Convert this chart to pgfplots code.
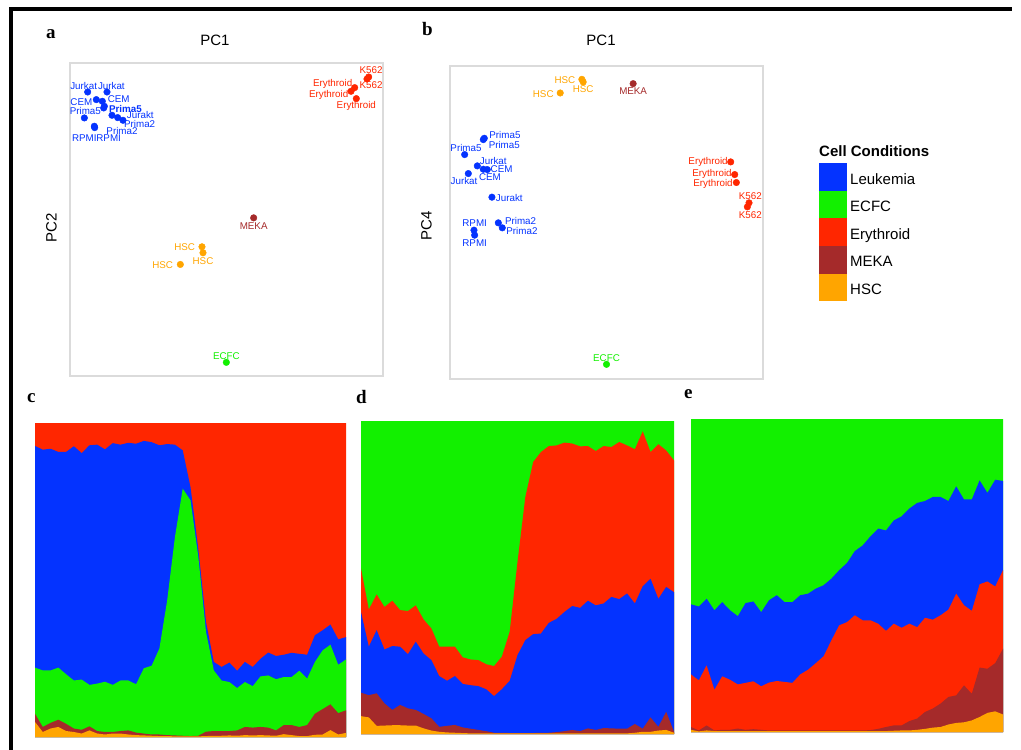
\documentclass[border=0pt]{standalone}
\usepackage{pgfplots}
\pgfplotsset{compat=1.18}
\usepackage{pgfplotstable}
\usepackage{fontspec}
\setmainfont{Liberation Sans}
\newfontfamily\panelfont{Liberation Serif}

\definecolor{leuk}{HTML}{0433FF}
\definecolor{ecfc}{HTML}{12F000}
\definecolor{ery}{HTML}{FF2600}
\definecolor{meka}{HTML}{A52A2A}
\definecolor{hsc}{HTML}{FFA500}

% cumulative proportions (top edge of each layer) along the ordering
\pgfplotstableread{
k hsc meka ecfc leuk ery
0 0.048 0.074 0.221 0.927 1
1 0.016 0.032 0.212 0.915 1
2 0.027 0.045 0.212 0.918 1
3 0.032 0.055 0.221 0.908 1
4 0.019 0.042 0.200 0.908 1
5 0.016 0.027 0.180 0.926 1
6 0.011 0.023 0.183 0.904 1
7 0.021 0.034 0.166 0.929 1
8 0.011 0.019 0.170 0.931 1
9 0.008 0.016 0.176 0.916 1
10 0.011 0.016 0.166 0.936 1
11 0.011 0.019 0.180 0.931 1
12 0.008 0.021 0.180 0.937 1
13 0.006 0.014 0.168 0.934 1
14 0.005 0.011 0.219 0.943 1
15 0.004 0.008 0.227 0.939 1
16 0.003 0.008 0.282 0.929 1
17 0.003 0.006 0.435 0.933 1
18 0.002 0.005 0.637 0.931 1
19 0.002 0.004 0.791 0.913 1
20 0.002 0.003 0.754 0.796 1
21 0.002 0.004 0.575 0.600 1
22 0.003 0.017 0.334 0.366 1
23 0.004 0.019 0.212 0.239 1
24 0.004 0.019 0.180 0.223 1
25 0.005 0.019 0.175 0.237 1
26 0.004 0.021 0.156 0.211 1
27 0.006 0.032 0.175 0.239 1
28 0.005 0.030 0.162 0.223 1
29 0.006 0.032 0.193 0.249 1
30 0.005 0.030 0.196 0.269 1
31 0.004 0.021 0.184 0.258 1
32 0.009 0.038 0.191 0.262 1
33 0.006 0.038 0.191 0.268 1
34 0.003 0.032 0.211 0.265 1
35 0.003 0.038 0.186 0.262 1
36 0.007 0.074 0.239 0.324 1
37 0.008 0.089 0.276 0.340 1
38 0.022 0.104 0.294 0.358 1
39 0.008 0.076 0.230 0.311 1
40 0.013 0.085 0.247 0.318 1
}\tabC

\pgfplotstableread{
k hsc meka leuk ery ecfc
0 0.057 0.132 0.390 0.529 1
1 0.053 0.124 0.279 0.398 1
2 0.026 0.130 0.332 0.446 1
3 0.027 0.098 0.270 0.406 1
4 0.028 0.077 0.281 0.426 1
5 0.028 0.093 0.279 0.396 1
6 0.027 0.082 0.255 0.393 1
7 0.027 0.077 0.295 0.411 1
8 0.018 0.064 0.257 0.366 1
9 0.011 0.050 0.236 0.337 1
10 0.007 0.023 0.185 0.279 1
11 0.005 0.026 0.170 0.279 1
12 0.004 0.029 0.185 0.279 1
13 0.003 0.021 0.160 0.245 1
14 0.002 0.017 0.156 0.238 1
15 0.002 0.013 0.153 0.236 1
16 0.002 0.009 0.143 0.223 1
17 0.002 0.004 0.121 0.217 1
18 0.002 0.004 0.143 0.247 1
19 0.002 0.003 0.170 0.327 1
20 0.002 0.003 0.252 0.550 1
21 0.002 0.003 0.300 0.757 1
22 0.002 0.003 0.319 0.869 1
23 0.002 0.004 0.321 0.901 1
24 0.002 0.004 0.355 0.920 1
25 0.002 0.006 0.368 0.922 1
26 0.002 0.009 0.390 0.931 1
27 0.002 0.013 0.409 0.928 1
28 0.002 0.009 0.403 0.919 1
29 0.002 0.018 0.426 0.920 1
30 0.002 0.013 0.411 0.904 1
31 0.002 0.019 0.417 0.920 1
32 0.002 0.018 0.438 0.917 1
33 0.002 0.017 0.431 0.933 1
34 0.002 0.017 0.449 0.922 1
35 0.004 0.032 0.417 0.910 1
36 0.007 0.017 0.472 0.967 1
37 0.007 0.053 0.496 0.901 1
38 0.011 0.023 0.432 0.926 1
39 0.013 0.071 0.470 0.906 1
40 0.004 0.007 0.453 0.874 1
}\tabD

\pgfplotstableread{
k hsc meka ery leuk ecfc
0 0.007 0.016 0.184 0.408 1
1 0.002 0.005 0.165 0.401 1
2 0.005 0.021 0.213 0.426 1
3 0.003 0.005 0.135 0.389 1
4 0.003 0.007 0.178 0.415 1
5 0.003 0.007 0.167 0.389 1
6 0.003 0.011 0.152 0.370 1
7 0.003 0.007 0.157 0.412 1
8 0.003 0.009 0.162 0.417 1
9 0.003 0.007 0.146 0.383 1
10 0.003 0.005 0.158 0.421 1
11 0.003 0.005 0.163 0.437 1
12 0.003 0.005 0.160 0.415 1
13 0.003 0.005 0.157 0.415 1
14 0.003 0.005 0.184 0.437 1
15 0.003 0.005 0.199 0.442 1
16 0.003 0.005 0.220 0.458 1
17 0.003 0.005 0.242 0.469 1
18 0.003 0.005 0.293 0.490 1
19 0.003 0.005 0.341 0.517 1
20 0.003 0.005 0.351 0.540 1
21 0.003 0.005 0.373 0.578 1
22 0.003 0.005 0.357 0.596 1
23 0.003 0.006 0.357 0.625 1
24 0.003 0.010 0.346 0.650 1
25 0.003 0.016 0.323 0.644 1
26 0.004 0.021 0.346 0.676 1
27 0.005 0.021 0.333 0.689 1
28 0.005 0.035 0.346 0.714 1
29 0.007 0.043 0.335 0.732 1
30 0.010 0.064 0.365 0.738 1
31 0.014 0.075 0.359 0.751 1
32 0.016 0.091 0.373 0.751 1
33 0.024 0.112 0.391 0.738 1
34 0.029 0.117 0.442 0.785 1
35 0.031 0.149 0.405 0.743 1
36 0.037 0.122 0.387 0.743 1
37 0.048 0.206 0.472 0.804 1
38 0.061 0.202 0.481 0.764 1
39 0.066 0.220 0.465 0.806 1
40 0.056 0.266 0.517 0.802 1
}\tabE

\pgfplotsset{
  pcabox/.style={scale only axis, width=313bp, height=313bp,
    xmin=0, xmax=100, ymin=0, ymax=100, xtick=\empty, ytick=\empty,
    axis line style={draw=black!14, line width=1.2bp}, clip=false},
  strip/.style={scale only axis, xmin=0, xmax=40, ymin=0, ymax=1, hide axis},
  layer/.style={draw=none, fill=#1, forget plot},
  dots/.style={only marks, mark=*, mark size=3.3bp, color=#1, forget plot},
}
\newcommand{\lab}[4]{\node[text=#1, inner sep=0pt,
  font=\fontsize{9.8bp}{10bp}\selectfont] at (axis cs:#2,#3) {#4};}
\newcommand{\panel}[1]{{\panelfont\bfseries\fontsize{19bp}{20bp}\selectfont #1}}

\begin{document}
\begin{tikzpicture}
\path[use as bounding box] (0,0) rectangle (1021bp,-750bp);

% outer frame
\draw[line width=3.5bp] (11bp,-752bp) -- (11bp,-9bp) -- (1012bp,-9bp);

% panel letters and axis names
\node[anchor=base west, inner sep=0pt] at (46bp,-38bp) {\panel{a}};
\node[anchor=base west, inner sep=0pt] at (422bp,-35bp) {\panel{b}};
\node[anchor=base west, inner sep=0pt] at (27bp,-402bp) {\panel{c}};
\node[anchor=base west, inner sep=0pt] at (356bp,-403bp) {\panel{d}};
\node[anchor=base west, inner sep=0pt] at (684bp,-398bp) {\panel{e}};
\node[anchor=base, inner sep=0pt, font=\fontsize{15bp}{16bp}\selectfont] at (215bp,-45bp) {PC1};
\node[anchor=base, inner sep=0pt, font=\fontsize{15bp}{16bp}\selectfont] at (601bp,-45bp) {PC1};
\node[rotate=90, inner sep=0pt, font=\fontsize{15bp}{16bp}\selectfont] at (51.5bp,-227.5bp) {PC2};
\node[rotate=90, inner sep=0pt, font=\fontsize{15bp}{16bp}\selectfont] at (426.5bp,-226bp) {PC4};
\node[anchor=base west, inner sep=0pt, font=\bfseries\fontsize{15bp}{16bp}\selectfont] at (819bp,-156bp) {Cell Conditions};

% ---- a: PC1 vs PC2
\begin{axis}[pcabox, at={(70bp,-63bp)}, anchor=north west]
\addplot[dots=leuk] coordinates {(5.64,90.74) (11.82,90.74) (8.41,88.30) (10.33,87.77)
  (10.76,85.64) (10.97,86.17) (4.58,82.45) (13.42,83.30) (15.23,82.55) (16.93,81.70)
  (7.88,79.36) (7.77,79.79)};
\addplot[dots=ery] coordinates {(95.42,95.53) (94.89,94.89) (90.95,92.13) (89.78,90.96) (91.48,88.62)};
\addplot[dots=meka] coordinates {(58.68,50.53)};
\addplot[dots=hsc] coordinates {(42.17,41.28) (42.49,39.36) (35.25,35.64)};
\addplot[dots=ecfc] coordinates {(49.95,4.36)};
\lab{leuk}{4.37}{92.77}{Jurkat}
\lab{leuk}{13.21}{92.77}{Jurkat}
\lab{leuk}{3.62}{87.55}{CEM}
\lab{leuk}{15.55}{88.30}{CEM}
\lab{leuk}{4.90}{84.68}{Prima5}
\lab{leuk}{17.70}{85.45}{\textbf{Prima5}}
\lab{leuk}{22.47}{83.50}{Jurakt}
\lab{leuk}{22.26}{80.64}{Prima2}
\lab{leuk}{16.61}{78.31}{Prima2}
\lab{leuk}{4.58}{76.06}{RPMI}
\lab{leuk}{12.35}{76.06}{RPMI}
\lab{ery}{96.17}{97.87}{K562}
\lab{ery}{96.17}{93.09}{K562}
\lab{ery}{83.92}{93.40}{Erythroid}
\lab{ery}{82.64}{89.68}{Erythroid}
\lab{ery}{91.48}{86.17}{Erythroid}
\lab{meka}{58.68}{47.98}{MEKA}
\lab{hsc}{36.63}{41.06}{HSC}
\lab{hsc}{42.49}{36.81}{HSC}
\lab{hsc}{29.61}{35.43}{HSC}
\lab{ecfc}{49.95}{6.49}{ECFC}
\end{axis}

% ---- b: PC1 vs PC4, with the shared legend
\begin{axis}[pcabox, at={(450bp,-66bp)}, anchor=north west,
  legend style={at={(1.1789,0.6901)}, anchor=north west, draw=none, fill=none,
    inner sep=0pt, row sep=0pt, column sep=3bp,
    nodes={inner sep=0pt}, font=\fontsize{15bp}{16bp}\selectfont},
  legend cell align=left,
  legend image code/.code={\fill[#1] (0bp,-11.2bp) rectangle (28bp,16.4bp);}]
\addlegendimage{fill=leuk, draw=none}\addlegendentry{Leukemia}
\addlegendimage{fill=ecfc, draw=none}\addlegendentry{ECFC}
\addlegendimage{fill=ery, draw=none}\addlegendentry{Erythroid}
\addlegendimage{fill=meka, draw=none}\addlegendentry{MEKA}
\addlegendimage{fill=hsc, draw=none}\addlegendentry{HSC}
\addplot[dots=hsc] coordinates {(42.13,95.74) (42.55,94.89) (35.21,91.38)};
\addplot[dots=meka] coordinates {(58.51,94.36)};
\addplot[dots=leuk] coordinates {(10.64,76.49) (10.96,76.91) (4.68,71.70) (8.72,68.09)
  (10.64,67.02) (11.91,66.91) (5.85,65.64) (13.40,58.09) (15.43,49.89) (16.70,48.30)
  (7.66,47.55) (7.87,45.96)};
\addplot[dots=ery] coordinates {(89.68,69.36) (90.96,65.32) (91.49,62.77) (95.53,56.28) (95.00,55.00)};
\addplot[dots=ecfc] coordinates {(50.00,4.68)};
\lab{hsc}{36.70}{95.64}{HSC}
\lab{hsc}{42.55}{92.55}{HSC}
\lab{hsc}{29.79}{91.17}{HSC}
\lab{meka}{58.51}{92.02}{MEKA}
\lab{leuk}{17.55}{77.87}{Prima5}
\lab{leuk}{17.34}{74.89}{Prima5}
\lab{leuk}{5.11}{73.94}{Prima5}
\lab{leuk}{13.83}{69.68}{Jurkat}
\lab{leuk}{16.49}{67.02}{CEM}
\lab{leuk}{12.77}{64.57}{CEM}
\lab{leuk}{4.47}{63.19}{Jurkat}
\lab{leuk}{18.94}{57.87}{Jurakt}
\lab{leuk}{22.55}{50.64}{Prima2}
\lab{leuk}{22.98}{47.34}{Prima2}
\lab{leuk}{7.87}{49.79}{RPMI}
\lab{leuk}{7.87}{43.51}{RPMI}
\lab{ery}{82.45}{69.26}{Erythroid}
\lab{ery}{83.72}{65.43}{Erythroid}
\lab{ery}{84.04}{62.23}{Erythroid}
\lab{ery}{95.96}{58.40}{K562}
\lab{ery}{95.96}{52.34}{K562}
\lab{ecfc}{50.00}{6.81}{ECFC}
\end{axis}

% ---- c
\begin{axis}[strip, width=311bp, height=314bp, at={(35bp,-423bp)}, anchor=north west]
\addplot[layer=ery]  table[x=k, y=ery]  {\tabC} \closedcycle;
\addplot[layer=leuk] table[x=k, y=leuk] {\tabC} \closedcycle;
\addplot[layer=ecfc] table[x=k, y=ecfc] {\tabC} \closedcycle;
\addplot[layer=meka] table[x=k, y=meka] {\tabC} \closedcycle;
\addplot[layer=hsc]  table[x=k, y=hsc]  {\tabC} \closedcycle;
\end{axis}

% ---- d
\begin{axis}[strip, width=313bp, height=313bp, at={(361bp,-421bp)}, anchor=north west]
\addplot[layer=ecfc] table[x=k, y=ecfc] {\tabD} \closedcycle;
\addplot[layer=ery]  table[x=k, y=ery]  {\tabD} \closedcycle;
\addplot[layer=leuk] table[x=k, y=leuk] {\tabD} \closedcycle;
\addplot[layer=meka] table[x=k, y=meka] {\tabD} \closedcycle;
\addplot[layer=hsc]  table[x=k, y=hsc]  {\tabD} \closedcycle;
\end{axis}

% ---- e
\begin{axis}[strip, width=312bp, height=313bp, at={(691bp,-419bp)}, anchor=north west]
\addplot[layer=ecfc] table[x=k, y=ecfc] {\tabE} \closedcycle;
\addplot[layer=leuk] table[x=k, y=leuk] {\tabE} \closedcycle;
\addplot[layer=ery]  table[x=k, y=ery]  {\tabE} \closedcycle;
\addplot[layer=meka] table[x=k, y=meka] {\tabE} \closedcycle;
\addplot[layer=hsc]  table[x=k, y=hsc]  {\tabE} \closedcycle;
\end{axis}
\end{tikzpicture}
\end{document}
